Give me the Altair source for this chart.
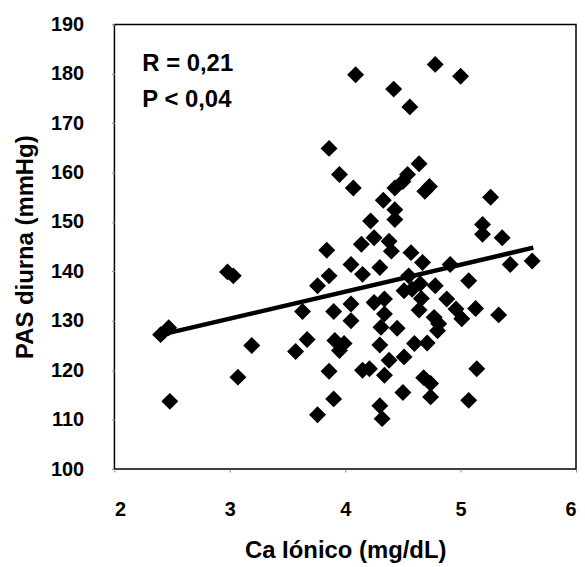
import altair as alt
import pandas as pd

# Ca iónico (mg/dL) vs PAS diurna (mmHg)
ca = [2.40, 2.47, 2.48, 2.98, 3.03, 3.07, 3.19, 3.57, 3.63, 3.67,
      3.76, 3.76, 3.84, 3.86, 3.86, 3.90, 3.90, 3.86, 3.91, 3.99,
      3.95, 3.95, 4.07, 4.09, 4.05, 4.05, 4.05, 4.14, 4.15, 4.15,
      4.21, 4.22, 4.25, 4.25, 4.30, 4.30, 4.30, 4.32, 4.31, 4.33,
      4.34, 4.34, 4.38, 4.40, 4.38, 4.42, 4.43, 4.43, 4.43, 4.45,
      4.50, 4.51, 4.50, 4.51, 4.54, 4.55, 4.56, 4.57, 4.58, 4.60,
      4.64, 4.64, 4.66, 4.67, 4.68, 4.69, 4.71, 4.73, 4.74, 4.74,
      4.78, 4.78, 4.77, 4.80, 4.81, 4.88, 4.91, 4.96, 5.00, 5.01,
      5.07, 5.07, 5.13, 5.14, 5.19, 5.19, 5.26, 5.33, 5.36, 5.43,
      5.62, 4.34, 4.65]
pas = [127.2, 128.6, 113.7, 139.9, 139.1, 118.6, 125.0, 123.8, 131.9, 126.2,
       137.1, 111.0, 144.3, 139.1, 119.8, 131.9, 114.2, 164.9, 126.0, 125.4,
       124.0, 159.6, 156.9, 179.8, 141.4, 133.4, 130.0, 145.5, 139.4, 120.0,
       120.3, 150.2, 146.8, 133.7, 140.8, 125.1, 112.8, 110.2, 128.7, 154.4,
       119.0, 134.4, 146.1, 144.1, 122.0, 176.9, 156.9, 152.5, 150.5, 128.5,
       158.2, 122.7, 115.5, 136.1, 159.6, 139.1, 173.3, 143.8, 136.4, 125.4,
       161.8, 132.2, 134.5, 141.8, 118.5, 156.2, 125.5, 157.2, 117.3, 114.6,
       181.9, 137.1, 130.7, 128.0, 129.4, 134.4, 141.4, 132.4, 179.5, 130.4,
       138.1, 113.9, 132.5, 120.3, 149.5, 147.5, 155.0, 131.2, 146.8, 141.4,
       142.1, 131.4, 137.5]

# regression line end points
line_x = [2.37, 5.63]
line_y = [127.0, 144.8]

stats_text = ["R = 0,21", "P < 0,04"]

pts = pd.DataFrame({"ca": ca, "pas": pas})
fit = pd.DataFrame({"ca": line_x, "pas": line_y})

FONT = "Liberation Sans"

xscale = alt.Scale(domain=[2, 6], nice=False, zero=False)
yscale = alt.Scale(domain=[100, 190], nice=False, zero=False)

xaxis = alt.Axis(values=[2, 3, 4, 5, 6], format="d", title="Ca Iónico (mg/dL)",
                 grid=False, domain=False, tickSize=3, tickColor="#888888",
                 labelFont=FONT, labelFontSize=20, labelFontWeight="bold",
                 labelColor="black", labelPadding=28,
                 titleFont=FONT, titleFontSize=24, titleFontWeight="bold",
                 titleColor="black", titlePadding=19)
yaxis = alt.Axis(values=list(range(100, 191, 10)), format="d",
                 title="PAS diurna (mmHg)",
                 grid=False, domain=False, tickSize=3, tickColor="#888888",
                 labelFont=FONT, labelFontSize=20, labelFontWeight="bold",
                 labelColor="black", labelPadding=28,
                 titleFont=FONT, titleFontSize=24, titleFontWeight="bold",
                 titleColor="black", titlePadding=13)

points = alt.Chart(pts).mark_point(shape="diamond", filled=True, color="black",
                                   size=290, opacity=1).encode(
    x=alt.X("ca:Q", scale=xscale, axis=xaxis),
    y=alt.Y("pas:Q", scale=yscale, axis=yaxis),
)

line = alt.Chart(fit).mark_line(color="black", strokeWidth=4.5).encode(
    x=alt.X("ca:Q", scale=xscale),
    y=alt.Y("pas:Q", scale=yscale),
)

t1 = alt.Chart(pd.DataFrame({"t": [stats_text[0]]})).mark_text(
    align="left", baseline="middle", font=FONT, fontSize=24,
    fontWeight="bold", color="black").encode(
    text="t:N", x=alt.value(28), y=alt.value(40))
t2 = alt.Chart(pd.DataFrame({"t": [stats_text[1]]})).mark_text(
    align="left", baseline="middle", font=FONT, fontSize=24,
    fontWeight="bold", color="black").encode(
    text="t:N", x=alt.value(28), y=alt.value(76))

chart = alt.layer(points, line, t1, t2).properties(
    width=464, height=447, background="white",
    padding={"left": 5, "top": 5, "right": 0, "bottom": 0},
).configure_view(stroke="black", strokeWidth=1.5)

chart.save("out.html", embed_options={"renderer": "svg", "actions": False})
